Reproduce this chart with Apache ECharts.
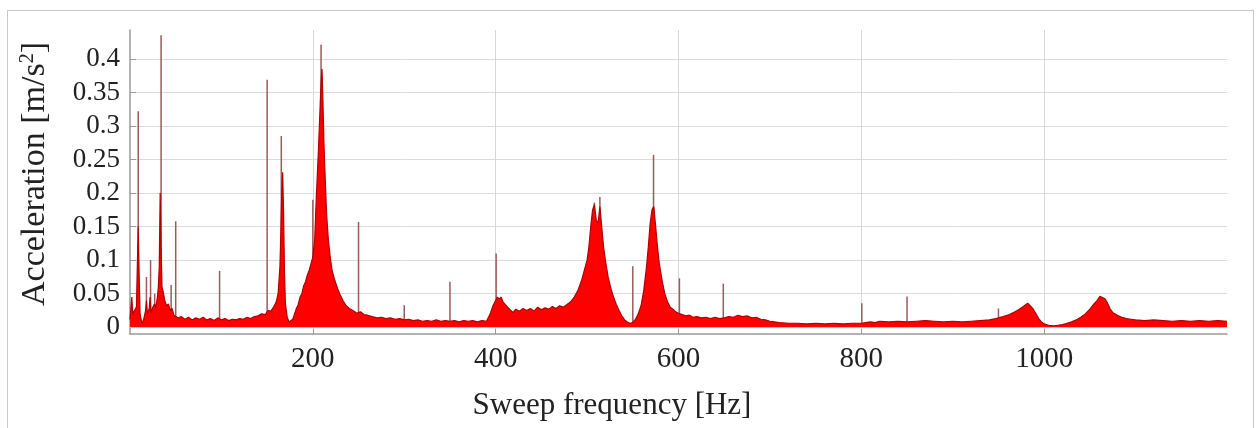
<!DOCTYPE html>
<html>
<head>
<meta charset="utf-8">
<script src="https://cdn.jsdelivr.net/npm/echarts@6/dist/echarts.min.js"></script>
<style>
html,body{margin:0;padding:0;background:#fff;}
#frame{position:absolute;left:7px;top:10px;width:1247px;height:440px;border:1px solid #c8c8c8;box-sizing:border-box;}
#chart{position:absolute;left:0;top:0;width:1258px;height:428px;}
</style>
</head>
<body>
<div id="frame"></div>
<div id="chart"></div>
<script>
// Envelope of the measured acceleration spectrum (Hz, m/s^2)
const freq = [0,2,3,5,7,8,9,10,11,13,15,17,18,19,21,22,23,25,27,28,30,31,32,33,34,35,36,38,40,42,44,46,48,50,
53,56,60,64,68,72,76,80,84,88,92,96,100,104,108,112,116,120,124,128,132,136,140,144,148,151,154,157,160,162,164,165,166,167,168,169,170,172,174,176,178,
180,182,184,186,188,190,192,194,196,198,200,202,204,206,208,209,210,211,212,213,215,217,219,221,224,227,230,233,236,240,244,248,252,256,260,265,270,275,280,285,290,295,
300,305,310,315,320,325,330,335,340,345,350,355,360,365,370,375,380,385,390,394,397,400,402,404,406,408,410,413,416,419,422,426,430,434,438,442,446,450,454,458,462,466,470,474,478,482,486,490,494,497,
500,502,504,506,508,510,512,514,516,518,520,523,526,529,532,535,538,541,544,547,550,553,556,559,562,565,567,569,571,573,575,577,579,582,585,588,591,594,597,
600,604,608,612,616,620,625,630,635,640,645,650,655,660,665,670,675,680,685,690,695,700,705,710,720,730,740,750,760,770,780,790,
800,805,810,815,820,830,840,850,860,870,880,890,900,910,920,930,940,947,955,962,968,972,976,979,982,985,988,991,994,997,
1000,1005,1010,1015,1020,1025,1030,1035,1040,1045,1050,1054,1058,1061,1063,1066,1069,1072,1075,1080,1085,1090,1095,1100,1110,1120,1130,1140,1150,1160,1170,1180,1190,1200];
const accel = [0.012,0.045,0.02,0.018,0.03,0.09,0.15,0.08,0.02,0.006,0.012,0.025,0.04,0.02,0.028,0.045,0.022,0.03,0.035,0.028,0.045,0.06,0.09,0.2,0.12,0.06,0.055,0.04,0.032,0.035,0.025,0.028,0.018,0.02,
0.014,0.016,0.012,0.015,0.011,0.014,0.012,0.015,0.011,0.013,0.01,0.014,0.011,0.013,0.01,0.012,0.011,0.013,0.012,0.015,0.013,0.016,0.017,0.02,0.019,0.025,0.024,0.03,0.038,0.05,0.09,0.14,0.2,0.231,0.17,0.08,0.035,0.015,0.008,0.006,0.012,
0.02,0.028,0.034,0.045,0.05,0.062,0.068,0.078,0.085,0.095,0.105,0.13,0.2,0.26,0.33,0.365,0.385,0.34,0.28,0.24,0.17,0.13,0.105,0.085,0.07,0.058,0.048,0.04,0.033,0.028,0.025,0.021,0.023,0.019,0.018,0.016,0.014,0.015,0.013,0.014,0.012,0.013,
0.011,0.012,0.01,0.011,0.009,0.01,0.009,0.011,0.009,0.01,0.009,0.01,0.008,0.01,0.009,0.01,0.008,0.01,0.009,0.02,0.032,0.04,0.045,0.042,0.045,0.038,0.04,0.03,0.026,0.022,0.027,0.024,0.028,0.025,0.028,0.024,0.03,0.026,0.029,0.027,0.031,0.028,0.032,0.03,0.034,0.038,0.045,0.055,0.07,0.085,
0.1,0.12,0.15,0.175,0.183,0.16,0.155,0.18,0.15,0.12,0.1,0.075,0.058,0.045,0.034,0.025,0.017,0.011,0.008,0.006,0.007,0.012,0.02,0.032,0.055,0.09,0.12,0.155,0.175,0.18,0.15,0.12,0.095,0.07,0.05,0.038,0.03,0.027,0.023,
0.021,0.019,0.017,0.018,0.015,0.016,0.014,0.015,0.013,0.015,0.013,0.014,0.016,0.015,0.018,0.016,0.017,0.014,0.015,0.012,0.011,0.009,0.008,0.007,0.006,0.006,0.005,0.006,0.005,0.006,0.005,0.006,
0.006,0.007,0.008,0.007,0.009,0.008,0.009,0.008,0.009,0.01,0.009,0.008,0.009,0.008,0.009,0.01,0.011,0.013,0.016,0.019,0.023,0.026,0.03,0.033,0.036,0.032,0.027,0.02,0.013,0.008,
0.005,0.003,0.002,0.003,0.004,0.006,0.008,0.011,0.015,0.02,0.027,0.034,0.04,0.046,0.048,0.043,0.037,0.028,0.022,0.018,0.015,0.013,0.012,0.011,0.01,0.011,0.01,0.009,0.01,0.009,0.01,0.009,0.01,0.009];

// Narrow harmonic spikes (Hz, m/s^2)
const spikeFreq = [9,18,22.5,27,34,45,50,98,150,165.5,200,209,250,300,350,400.5,508,514,550,572.7,601,649,800.5,850,950];
const spikeAcc  = [0.322,0.075,0.1,0.05,0.435,0.063,0.158,0.084,0.369,0.285,0.19,0.421,0.157,0.033,0.068,0.11,0.186,0.194,0.091,0.257,0.073,0.065,0.036,0.046,0.028];

const xTicks = [200,400,600,800,1000];
const yTicks = [0,0.05,0.1,0.15,0.2,0.25,0.3,0.35,0.4];

const chart = echarts.init(document.getElementById('chart'), null, {renderer:'canvas'});
const serif = '"Liberation Serif", "Times New Roman", serif';
chart.setOption({
  animation:false,
  backgroundColor:'transparent',
  grid:{left:130,right:31,top:30,bottom:94,containLabel:false},
  xAxis:{
    type:'value',min:0,max:1200,
    name:'Sweep frequency [Hz]',nameLocation:'middle',nameGap:56,
    nameTextStyle:{fontFamily:serif,fontSize:31,color:'#222',padding:[0,133,0,0]},
    axisLine:{show:true,onZero:false,lineStyle:{color:'#9a9a9a',width:1.5}},
    axisTick:{show:true,inside:true,length:5,customValues:xTicks,lineStyle:{color:'#9a9a9a'}},
    axisLabel:{customValues:xTicks,formatter:function(v){return String(v);},fontFamily:serif,fontSize:29,color:'#222',margin:11},
    splitLine:{show:true,lineStyle:{color:'#d8d8d8',width:1}}
  },
  yAxis:{
    type:'value',min:-0.01,max:0.443,
    name:'{a|Acceleration [m/s}{s|2}{a|]}',nameLocation:'middle',nameGap:78,
    nameTextStyle:{fontFamily:serif,fontSize:34,color:'#222',padding:[0,0,0,16],
      rich:{a:{fontFamily:serif,fontSize:34,color:'#222'},s:{fontFamily:serif,fontSize:20,color:'#222',verticalAlign:'top',padding:[0,0,12,0]}}},
    axisLine:{show:true,onZero:false,lineStyle:{color:'#9a9a9a',width:1.5}},
    axisTick:{show:true,inside:true,length:6,customValues:yTicks,lineStyle:{color:'#9a9a9a'}},
    axisLabel:{customValues:yTicks,fontFamily:serif,fontSize:27,color:'#222',margin:10},
    splitLine:{show:true,lineStyle:{color:'#dcdcdc',width:1}}
  },
  series:[
    {
      type:'bar',
      data:spikeFreq.map((f,i)=>[f,spikeAcc[i]]),
      barWidth:1.5,
      itemStyle:{color:'#9c5a5a'},
      z:1,silent:true
    },
    {
      type:'line',
      data:freq.map((f,i)=>[f,accel[i]]),
      showSymbol:false,
      lineStyle:{color:'#b00000',width:1.2},
      areaStyle:{color:'#ff0000',opacity:1},
      z:2,silent:true,
      markLine:{silent:true,symbol:'none',label:{show:false},
        lineStyle:{color:'#a8dcb0',width:1,type:'solid'},data:[{yAxis:0}]}
    }
  ]
});
</script>
</body>
</html>
